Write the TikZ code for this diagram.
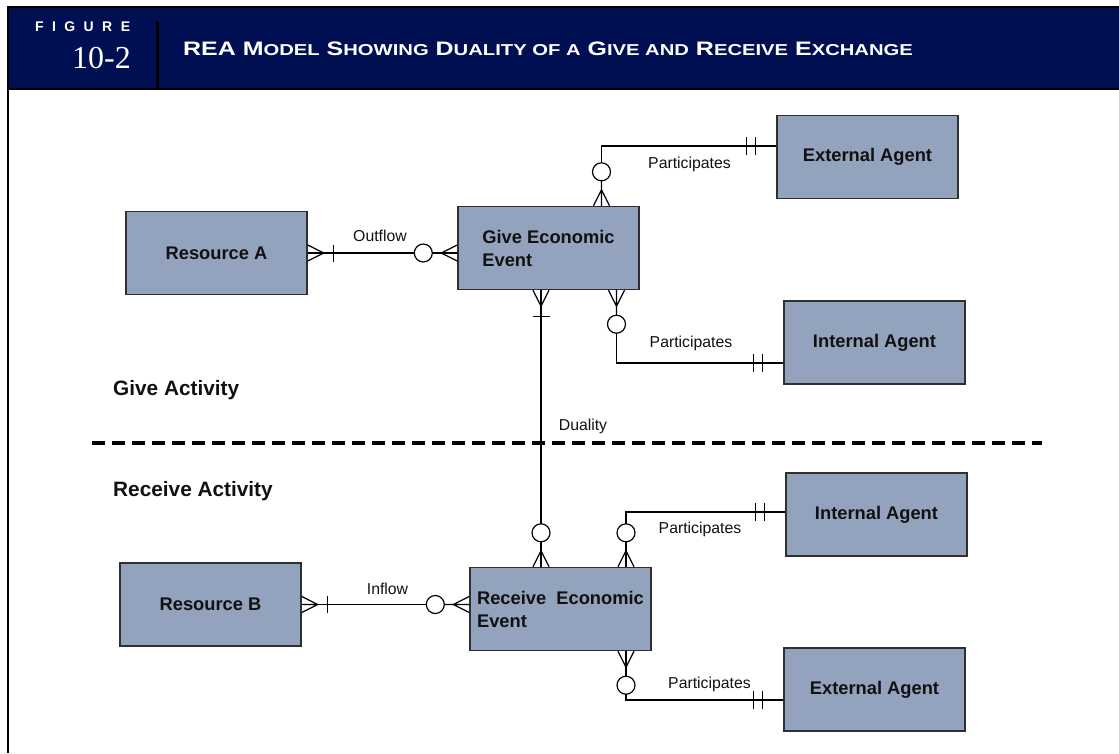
\documentclass[tikz,border=0pt]{standalone}
\usepackage{fontspec}
\setmainfont{Liberation Sans}
\newfontfamily\reanumfont{Liberation Serif}
\newfontfamily\reaspacedfont[LetterSpace=60]{Liberation Sans}
\newfontfamily\reatitlefont[FakeStretch=1.28]{Liberation Sans}
\definecolor{reaNavy}{HTML}{000E52}
\definecolor{reaBox}{HTML}{94A3BD}
\definecolor{reaEdge}{HTML}{2E2E33}
\definecolor{reaInk}{HTML}{111111}
\newcommand\reasmall[1]{{\fontsize{15.8}{16}\selectfont\uppercase{#1}}}
\tikzset{
  every picture/.style={font=\fontsize{15.8}{18}\selectfont, text=reaInk},
  rea box/.style={draw=reaEdge, line width=1.4pt, fill=reaBox,
    minimum width=181pt, minimum height=83pt, inner sep=0pt, align=left,
    font=\bfseries\fontsize{18.3}{23}\selectfont},
  rea link/.style={draw=black, line width=1.2pt},
  rea split/.style={draw=black, line width=3.5pt, dash pattern=on 13pt off 7pt},
  rea heading/.style={anchor=west, inner sep=0pt,
    font=\bfseries\fontsize{20.8}{24}\selectfont},
  many opt/.pic={
    \draw[rea link] (0,-8) -- (16,0) -- (0,8) (0,0) -- (25,0);
    \draw[rea link, fill=white] (34,0) circle[radius=9];
  },
  many one/.pic={
    \draw[rea link] (0,-8) -- (16,0) -- (0,8) (0,0) -- (16,0);
    \draw[rea link] (26,-8.5) -- (26,8.5);
  },
  one must/.pic={
    \draw[rea link] (21,-9) -- (21,9) (30,-9) -- (30,9);
  }
}

\begin{document}
\begin{tikzpicture}[x=1pt,y=-1pt]
  \useasboundingbox (0,0) rectangle (1119,753);
  % header band
  \fill[reaNavy] (8,7) rectangle (1119,88);
  \draw[black, line width=2pt] (1119,6.5) -- (7.5,6.5) -- (7.5,753);
  \draw[black, line width=2.4pt] (7.5,89) -- (1119,89);
  \draw[black, line width=2.6pt] (157.5,21) -- (157.5,89);
  \node[anchor=west, inner sep=0pt, text=white,
    font=\reaspacedfont\bfseries\fontsize{14}{14}\selectfont] (figWord) at (35,27) {FIGURE};
  \node[anchor=east, inner sep=0pt, text=white,
    font=\reanumfont\fontsize{32}{32}\selectfont] (figNum) at (131,58) {10-2};
  \node[anchor=base west, inner sep=0pt, text=white,
    font=\reatitlefont\bfseries\fontsize{19.5}{20}\selectfont] (figTitle) at (183,55)
    {REA M\reasmall{odel} S\reasmall{howing} D\reasmall{uality of a} G\reasmall{ive and} R\reasmall{eceive} E\reasmall{xchange}};

  % entities
  \node[rea box] (resA) at (216.5,253) {Resource A};
  \node[rea box] (give) at (548.5,248) {Give Economic\\Event};
  \node[rea box] (extA) at (867.5,157) {External Agent};
  \node[rea box] (intA) at (874.5,342.5) {Internal Agent};
  \node[rea box] (recv) at (560.5,609) {Receive\ \ Economic\\Event};
  \node[rea box] (resB) at (210.5,604.5) {Resource B};
  \node[rea box] (intB) at (876.5,514.5) {Internal Agent};
  \node[rea box] (extB) at (874.5,689.5) {External Agent};

  % activity split
  \node[rea heading] (giveAct) at (113,390) {Give Activity};
  \node[rea heading] (recvAct) at (113,491) {Receive Activity};
  \draw[rea split] (92,443) -- (1042,443);

  % give side
  \draw[rea link] (resA.east) -- (resA.east -| give.west);
  \pic at (resA.east) {many one};
  \pic[rotate=180] at (resA.east -| give.west) {many opt};
  \node (outLbl) at (380,236) {Outflow};

  \coordinate (giveUp) at ([xshift=53pt]give.north);
  \draw[rea link] (giveUp) |- ([yshift=11pt]extA.west);
  \pic[rotate=90] at (giveUp) {many opt};
  \pic[rotate=180] at ([yshift=11pt]extA.west) {one must};
  \node (partA) at (689.5,164) {Participates};

  \coordinate (giveDown) at ([xshift=68pt]give.south);
  \draw[rea link] (giveDown) |- ([yshift=-20.5pt]intA.west);
  \pic[rotate=-90] at (giveDown) {many opt};
  \pic[rotate=180] at ([yshift=-20.5pt]intA.west) {one must};
  \node (partB) at (691,343) {Participates};

  % duality
  \coordinate (dualTop) at ([xshift=-7.5pt]give.south);
  \draw[rea link] (dualTop) -- (dualTop |- recv.north);
  \pic[rotate=-90] at (dualTop) {many one};
  \pic[rotate=90] at (dualTop |- recv.north) {many opt};
  \node (dualLbl) at (583,426) {Duality};

  % receive side
  \draw[rea link] (resB.east) -- (resB.east -| recv.west);
  \pic at (resB.east) {many one};
  \pic[rotate=180] at (resB.east -| recv.west) {many opt};
  \node (inLbl) at (387.5,589) {Inflow};

  \coordinate (recvUp) at ([xshift=65.5pt]recv.north);
  \draw[rea link] (recvUp) |- ([yshift=2.5pt]intB.west);
  \pic[rotate=90] at (recvUp) {many opt};
  \pic[rotate=180] at ([yshift=2.5pt]intB.west) {one must};
  \node (partC) at (700,529) {Participates};

  \coordinate (recvDown) at ([xshift=65.5pt]recv.south);
  \draw[rea link] (recvDown) |- ([yshift=-10.5pt]extB.west);
  \pic[rotate=-90] at (recvDown) {many opt};
  \pic[rotate=180] at ([yshift=-10.5pt]extB.west) {one must};
  \node (partD) at (709.5,684) {Participates};
\end{tikzpicture}
\end{document}
